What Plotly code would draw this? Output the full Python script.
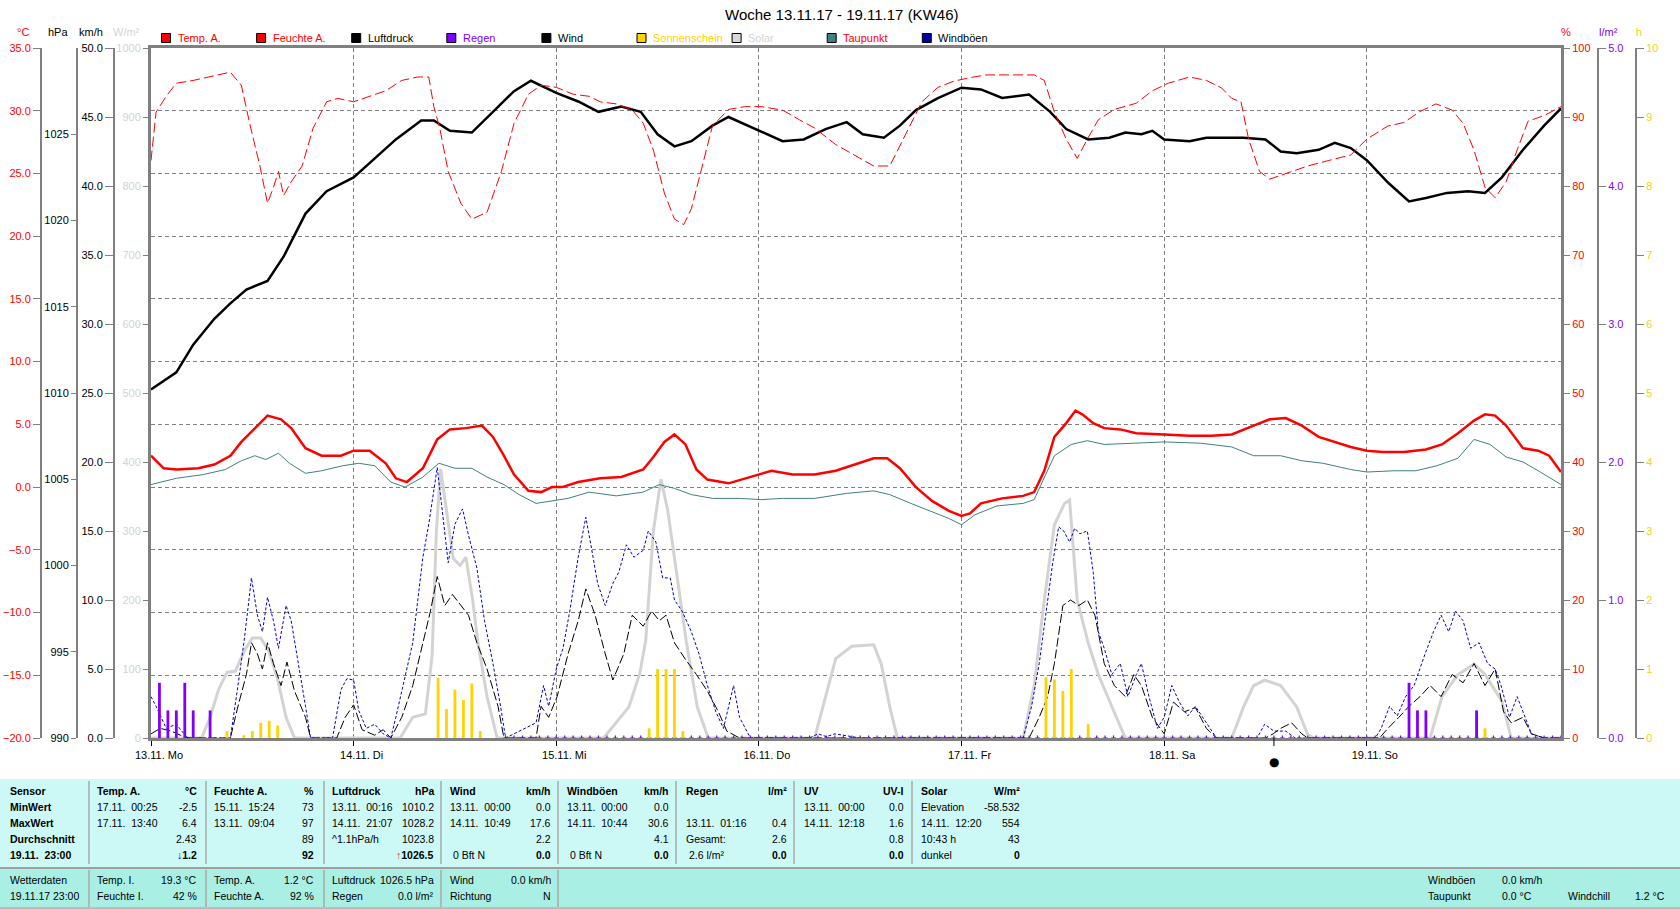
import pandas as pd
import plotly.graph_objects as go

W, H = 1680, 909
BASE = pd.Timestamp("2017-11-13 00:00")

# ---------------- data (hours after 13.11.17 00:00) ----------------
day_hours = [0, 24, 48, 72, 96, 120, 144]
day_labels = ["13.11. Mo", "14.11. Di", "15.11. Mi", "16.11. Do", "17.11. Fr", "18.11. Sa", "19.11. So"]

temp_h = [0, 1.5, 3, 5.6, 7.5, 9.4, 10.7, 12.3, 13.8, 15.4, 16.6, 18.3, 20.2, 22.5, 24, 25.9, 27.8, 29, 30.3, 32.2,
          33.9, 35.4, 37.3, 39.2, 40.5, 41.8, 43, 44.7, 46.2, 47.5, 48.7, 50.6, 53.2, 55.7, 58.3, 59.5, 60.8, 62, 63.3, 64.6,
          65.9, 68.4, 71, 73.5, 76, 78.6, 81.1, 83.7, 85.6, 87.2, 88.7, 90.6, 92.5, 94.5, 96, 97, 98.3, 100.8, 103.3, 104.6,
          105.8, 107, 108.4, 109.5, 110.3, 111.6, 112.9, 114.8, 116.7, 120, 123, 125.6, 128, 130.6, 132.5, 134.4, 136.3, 138.3, 140.2, 142.1,
          144, 145.9, 148.4, 151, 152.9, 154.8, 156.7, 158, 159.2, 160.5, 162.5, 164.3, 165.6, 167]
temp_v = [2.5, 1.5, 1.4, 1.5, 1.8, 2.5, 3.6, 4.7, 5.7, 5.4, 4.7, 3.1, 2.5, 2.5, 2.9, 2.9, 1.9, 0.7, 0.4, 1.5,
          3.8, 4.6, 4.7, 4.9, 4.0, 2.5, 1.0, -0.3, -0.4, 0.0, 0.0, 0.4, 0.7, 0.8, 1.4, 2.4, 3.6, 4.2, 3.4, 1.4,
          0.6, 0.3, 0.8, 1.3, 1.0, 1.0, 1.3, 1.9, 2.3, 2.3, 1.5, 0.0, -1.1, -1.9, -2.3, -2.1, -1.3, -0.9, -0.7, -0.4,
          1.3, 4.0, 5.1, 6.1, 5.8, 5.1, 4.7, 4.6, 4.3, 4.2, 4.1, 4.1, 4.2, 4.9, 5.4, 5.5, 4.9, 4.0, 3.6, 3.2,
          2.9, 2.8, 2.8, 3.0, 3.4, 4.3, 5.3, 5.8, 5.7, 4.9, 3.1, 2.9, 2.5, 1.2]

dew_h = [0, 3, 6.2, 8.8, 10.7, 12.3, 13.6, 15.1, 16.4, 18.3, 20.2, 22.7, 24.6, 26.5, 28.4, 30.1, 32.2, 34.1, 36, 38,
         39.8, 41.8, 43.6, 45.6, 47.5, 49.4, 51.9, 55.1, 58.3, 60.2, 62, 64, 66.5, 69.7, 72.3, 74.8, 78.6, 82.4, 85.6, 87.5,
         90, 92.5, 94.5, 96, 97.6, 100.2, 103.3, 104.6, 105.8, 107, 109, 110.9, 112.9, 116.7, 120, 124.3, 128, 130.6, 133.8, 136.3,
         138.8, 142.1, 144, 147.2, 149.8, 152.3, 154.8, 156.7, 158.6, 160.5, 162.5, 164.3, 167]
dew_v = [0.2, 0.7, 1.0, 1.4, 2.1, 2.5, 2.2, 2.7, 1.9, 1.1, 1.3, 1.7, 1.9, 1.7, 0.4, 0.0, 0.8, 1.9, 1.5, 1.5,
         0.8, 0.2, -0.6, -1.3, -1.1, -0.9, -0.4, -0.7, -0.4, 0.2, -0.1, -0.6, -0.9, -0.9, -1.0, -0.9, -0.9, -0.5, -0.3, -0.6,
         -1.3, -2.0, -2.5, -3.0, -2.2, -1.5, -1.3, -1.0, 0.8, 2.5, 3.4, 3.7, 3.4, 3.5, 3.6, 3.5, 3.2, 2.5, 2.5, 2.1,
         1.9, 1.4, 1.2, 1.3, 1.3, 1.7, 2.3, 3.8, 3.4, 2.4, 2.0, 1.3, 0.2]

hum_h = [0, 0.6, 1.8, 3, 5, 6.9, 9.4, 10.7, 11.7, 12.9, 13.8, 14.5, 15.1, 15.7, 16.6, 17.9, 19.2, 20.8, 22.1, 24,
         25.9, 27.8, 29.7, 31.6, 32.9, 33.5, 34.2, 35.2, 36.7, 38, 39.8, 41.5, 43, 44.7, 46.2, 48, 50, 51.9, 53.2, 55.1,
         57, 58.3, 59.5, 60.8, 62, 63.1, 64, 65.3, 66.5, 68.4, 70.3, 72.3, 74.8, 76.8, 78.6, 81.1, 83.7, 85.6, 87.5, 89.4,
         91.3, 93.2, 95.1, 97, 98.9, 101.4, 104.6, 105.8, 107, 108.4, 109.7, 110.9, 112.2, 114.1, 116.7, 118.6, 120.5, 123, 125, 126.8,
         128, 129.1, 130, 131.3, 132.5, 134.4, 137, 139.5, 142.1, 144, 146.5, 148.4, 150.3, 152.2, 154.1, 155.4, 156.7, 158, 159.2, 160.5,
         161.8, 163.1, 165, 167]
hum_v = [83.7, 90.7, 93, 94.9, 95.3, 95.8, 96.5, 94.6, 89, 82.9, 77.5, 79.8, 82.1, 78.6, 80.6, 82.9, 88.4, 92.2, 92.7, 92.2,
         93, 93.8, 95.3, 95.8, 95.8, 91.5, 88.4, 82.1, 77.5, 75.2, 76.2, 82.1, 89.1, 93.3, 94.6, 94.3, 93.3, 93, 92.2, 91.9,
         91, 89.1, 85.2, 79, 75.2, 74.4, 76.7, 82.9, 88.7, 91.1, 91.5, 91.5, 91, 89.6, 88.4, 86, 84.2, 82.9, 82.9, 87.6,
         92.2, 94.3, 95.2, 95.7, 96.1, 96.1, 96.1, 95.3, 90.7, 86.8, 84, 86.8, 89.6, 91.1, 92, 93.8, 94.9, 95.8, 95.3, 94.2,
         92.7, 92.2, 86.8, 82.1, 81, 81.8, 82.9, 83.7, 84.5, 86.8, 88.7, 89.2, 90.8, 91.9, 91, 89.1, 85.2, 79.8, 78.3, 80.6,
         85.2, 89.4, 90.2, 91.5]

press_h = [0, 3, 5, 7.5, 9.4, 11.3, 13.8, 15.7, 18.3, 20.8, 24, 26, 29, 32, 33.5, 35.4, 38, 40.5, 43, 45,
           48, 50.6, 53, 55.7, 58, 60, 62, 64, 66.5, 68.4, 72, 74.8, 77.3, 79.9, 82.4, 84.3, 86.8, 88.7, 90.6, 93.2,
           96, 98.3, 100.8, 104, 106.5, 108.4, 111, 113.5, 115.4, 117.3, 118.6, 120, 123, 125, 127.6, 129.4, 132, 133.8, 135.7, 138.3,
           140.2, 142.1, 144, 146.5, 149, 151, 153.5, 156, 158, 160, 162.5, 165, 167]
press_v = [1010.2, 1011.2, 1012.8, 1014.3, 1015.2, 1016.0, 1016.5, 1017.9, 1020.4, 1021.7, 1022.5, 1023.4, 1024.7, 1025.8, 1025.8, 1025.2, 1025.1, 1026.3, 1027.5, 1028.1,
           1027.4, 1026.9, 1026.3, 1026.6, 1026.3, 1025.0, 1024.3, 1024.6, 1025.5, 1026.0, 1025.2, 1024.6, 1024.7, 1025.3, 1025.7, 1025.0, 1024.8, 1025.5, 1026.4, 1027.1,
           1027.7, 1027.6, 1027.1, 1027.3, 1026.3, 1025.3, 1024.7, 1024.8, 1025.1, 1025.0, 1025.2, 1024.7, 1024.6, 1024.8, 1024.8, 1024.8, 1024.7, 1024.0, 1023.9, 1024.1,
           1024.5, 1024.2, 1023.5, 1022.2, 1021.1, 1021.3, 1021.6, 1021.7, 1021.6, 1022.5, 1024.1, 1025.5, 1026.5]

solar_h = [0, 6, 7, 8, 9, 10, 11, 12, 13, 14, 15, 16, 17,
           29.5, 31, 32.5, 33.3, 33.8, 34.3, 35, 35.8, 36.6, 37.3, 38.1, 38.7, 39.8, 41,
           53.6, 56.6, 57.9, 58.6, 59.5, 60.4, 61.2, 62.2, 63.4, 64.7, 66,
           78.6, 79.9, 81.1, 83, 85.6, 86.5, 87.5, 88.4,
           103.3, 104.6, 105.8, 107, 108.2, 108.8, 109.7, 111, 112.2, 114.1, 115.4,
           128, 129.4, 130.6, 131.9, 133.8, 135.7, 137, 137.7,
           151.5, 152.9, 154.8, 156.7, 158, 160, 161.1, 167]
solar_v = [0, 0, 30, 70, 95, 97, 125, 145, 145, 125, 85, 30, 0,
           0, 30, 35, 120, 300, 390, 330, 260, 250, 262, 200, 140, 60, 0,
           0, 45, 94, 142, 300, 375, 330, 240, 140, 45, 0,
           0, 60, 115, 133, 135, 107, 45, 0,
           0, 76, 200, 309, 340, 345, 200, 138, 92, 37, 0,
           0, 45, 76, 84, 76, 45, 5, 0,
           0, 60, 92, 107, 92, 53, 0, 0]

wind_h = [0, 1.1, 2.4, 3.5, 4.5, 9.4, 10.3, 11.3, 11.9, 12.6, 13.2, 13.8, 14.5, 15.4, 16.1, 17, 18.3, 18.9,
          22, 23, 24, 25, 26.5, 27.5, 28.4, 29.7, 31, 32.2, 33.1, 33.9, 34.8, 35.7, 36.7, 37.6, 38.6, 39.8, 41.1, 41.8,
          45.6, 46.2, 47.1, 48.1, 49.4, 50.6, 51.5, 52.6, 53.8, 54.7, 56, 57, 58.3, 59.3, 60.2, 61, 62, 63.3, 64.6, 65.9, 67.2, 68.2, 69.7,
          104, 105.2, 106.2, 107, 108, 108.9, 109.9, 110.9, 111.8, 112.9, 114.1, 115.4, 116.4, 117.3, 118.6, 120, 121.1, 122.4, 123.7, 125, 126.2,
          132, 132.9, 133.8, 135.1, 136.3, 137,
          145.5, 146.5, 147.8, 149, 150.3, 151.5, 152.8, 154.1, 155.4, 156.7, 158, 159.2, 160.2, 161.1, 162.5, 163.5, 165, 167]
wind_v = [0.3, 0.7, 0.5, 0.2, 0, 0, 2.3, 4.6, 6.9, 6.1, 5.0, 6.9, 5.4, 3.8, 5.5, 3.4, 1.5, 0,
          0, 1.5, 2.4, 0.6, 0.2, 0.6, 0, 1.5, 3.8, 6.9, 9.2, 11.7, 9.6, 10.4, 9.6, 8.9, 6.9, 5.0, 2.3, 0,
          0, 2.3, 1.5, 3.0, 6.1, 8.5, 10.8, 8.9, 6.1, 4.2, 6.1, 8.9, 8.1, 9.2, 8.5, 8.9, 6.9, 5.7, 4.6, 3.4, 1.9, 0.5, 0,
          0, 1.5, 3.0, 5.4, 9.6, 10.0, 9.6, 10.0, 8.9, 5.4, 3.8, 3.0, 4.6, 3.8, 1.5, 0.3, 2.6, 1.9, 2.2, 0.7, 0,
          0, 0.3, 0.7, 1.1, 0.3, 0,
          0, 0.7, 1.5, 2.3, 3.0, 3.8, 3.0, 4.6, 4.0, 5.4, 3.8, 5.0, 1.9, 1.1, 1.5, 0.3, 0, 0]

gust_h = [0, 0.6, 1.8, 3, 4.3, 9.4, 10.3, 11, 11.6, 11.9, 12.6, 13.2, 13.8, 14.5, 15.1, 16, 16.6, 17.4, 18.3, 18.9,
          21.5, 22.5, 23.2, 24, 24.6, 25.5, 26.5, 27.5, 28.4,
          29, 30, 31, 31.6, 32.2, 32.9, 33.5, 33.9, 34.4, 35.2, 36, 36.9, 37.6, 38.6, 39.5, 40.5, 41.4, 42,
          45.6, 46.5, 47.1, 48, 48.8, 49.6, 50.6, 51.5, 52.1, 52.9, 53.8, 54.7, 55.4, 56.3, 57.2, 58.3, 58.9, 59.8, 60.6, 61.5,
          62, 62.9, 64, 64.9, 65.9, 66.9, 67.8, 68.4, 69, 69.7, 71,
          78, 79, 80, 81, 83, 84,
          103.3, 104.3, 105.2, 106, 106.8, 107.5, 108.1, 108.8, 109.4, 110, 110.9, 111.6, 112.2, 112.9, 113.8, 114.8, 115.7,
          116.7, 117.3, 118.2, 119.2, 120, 120.9, 121.8, 122.8, 123.7, 125, 126.2,
          131, 131.9, 133, 134.4, 135.5,
          145, 145.7, 146.7, 147.6, 148.6, 149.6, 150.9, 151.9, 152.8, 153.7, 154.5, 155.4, 156.3, 157.3, 158.3, 159.2, 159.9,
          160.9, 161.8, 162.5, 163.5, 165, 167]
gust_v = [3.0, 2.3, 0.7, 1.0, 0, 0, 3.8, 6.9, 10.0, 11.6, 8.9, 7.7, 10.2, 8.5, 6.5, 9.6, 8.5, 5.7, 2.3, 0,
          0, 3.5, 4.3, 4.2, 2.0, 0.7, 1.0, 0.3, 0,
          1.5, 4.2, 6.9, 10.0, 13.1, 15.5, 17.8, 19.6, 17.0, 12.7, 15.5, 16.6, 14.7, 12.3, 8.5, 5.4, 2.3, 0,
          1.1, 3.8, 2.3, 5.0, 6.5, 9.2, 13.1, 16.0, 14.0, 11.2, 9.6, 11.2, 12.0, 14.0, 13.1, 13.6, 15.0, 14.2, 11.6, 11.6,
          10.0, 9.2, 7.7, 6.1, 3.8, 1.9, 0.7, 2.3, 3.8, 1.5, 0,
          0, 0.3, 0.1, 0.3, 0.1, 0,
          0, 2.3, 5.4, 9.2, 12.7, 15.3, 15.0, 14.2, 15.2, 14.8, 15.0, 12.0, 7.7, 6.5, 4.6, 5.4, 3.0,
          4.6, 5.4, 3.0, 0.7, 1.5, 3.8, 2.6, 1.6, 2.3, 1.1, 0,
          0, 1.0, 0.5, 0.5, 0,
          0, 0.7, 2.3, 1.6, 3.0, 3.8, 6.1, 7.7, 8.9, 7.7, 9.2, 8.5, 6.5, 6.9, 5.4, 5.0, 3.8,
          1.5, 3.0, 1.9, 0.3, 0, 0]

rain_h = [1, 2, 3, 4, 5, 7, 149, 150, 151, 157]
rain_v = [0.4, 0.2, 0.2, 0.4, 0.2, 0.2, 0.4, 0.2, 0.2, 0.2]

rainrate_h = list(range(42, 168))
rainrate_v = [0.0 for _ in rainrate_h]

sun_h = [9, 11, 12, 13, 14, 15, 34, 35, 36, 37, 38, 39, 59, 60, 61, 62, 63, 106, 107, 108, 109, 111, 158]
sun_v = [0.1, 0.04, 0.1, 0.22, 0.25, 0.18, 0.87, 0.42, 0.70, 0.55, 0.79, 0.1, 0.14, 1.0, 1.0, 1.0, 0.1,
         0.88, 0.85, 0.68, 1.0, 0.2, 0.14]

new_moon_h = 133.0

legend_names = ["Temp. A.", "Feuchte A.", "Luftdruck", "Regen", "Wind", "Sonnenschein", "Solar", "Taupunkt", "Windböen"]
legend_box = ["#FF0000", "#FF0000", "#000000", "#8000FF", "#000000", "#FFD200", "#D8D8D8", "#408080", "#0000A0"]
legend_text = ["#FF0000", "#FF0000", "#000000", "#8000FF", "#000000", "#FFD200", "#D3D3D3", "#FF0000", "#000000"]

# table contents
tbl_cols = [
    ("Sensor", "", ["MinWert", "MaxWert", "Durchschnitt", "19.11.  23:00"], ["", "", "", ""]),
    ("Temp. A.", "°C", ["17.11.  00:25", "17.11.  13:40", "", ""], ["-2.5", "6.4", "2.43", "<span style='color:#0000FF'>↓</span>1.2"]),
    ("Feuchte A.", "%", ["15.11.  15:24", "13.11.  09:04", "", ""], ["73", "97", "89", "92"]),
    ("Luftdruck", "hPa", ["13.11.  00:16", "14.11.  21:07", "^1.1hPa/h", ""], ["1010.2", "1028.2", "1023.8", "<span style='color:#C04000'>↑</span>1026.5"]),
    ("Wind", "km/h", ["13.11.  00:00", "14.11.  10:49", "", " 0 Bft N"], ["0.0", "17.6", "2.2", "0.0"]),
    ("Windböen", "km/h", ["13.11.  00:00", "14.11.  10:44", "", " 0 Bft N"], ["0.0", "30.6", "4.1", "0.0"]),
    ("Regen", "l/m²", ["", "13.11.  01:16", "Gesamt:", " 2.6 l/m²"], ["", "0.4", "2.6", "0.0"]),
    ("UV", "UV-I", ["13.11.  00:00", "14.11.  12:18", "", ""], ["0.0", "1.6", "0.8", "0.0"]),
    ("Solar", "W/m²", ["Elevation", "14.11.  12:20", "10:43 h", "dunkel"], ["-58.532", "554", "43", "0"]),
]
status_cols = [
    (["Wetterdaten", "19.11.17 23:00"], ["", ""]),
    (["Temp. I.", "Feuchte I."], ["19.3 °C", "42 %"]),
    (["Temp. A.", "Feuchte A."], ["1.2 °C", "92 %"]),
    (["Luftdruck", "Regen"], ["1026.5 hPa", "0.0 l/m²"]),
    (["Wind", "Richtung"], ["0.0 km/h", "N"]),
]

# ---------------- helpers ----------------
def ts(hours):
    return [BASE + pd.Timedelta(hours=h) for h in hours]

def px(x):
    return x / W

def py(y):
    return 1 - y / H

FONT = "Liberation Sans, Arial, sans-serif"
GREY = "#808080"
PL, PR, PT, PB = 151, 1561, 48, 738

fig = go.Figure()

fig.add_trace(go.Scatter(x=ts(solar_h), y=solar_v, yaxis="y", mode="lines",
                         line=dict(color="#D3D3D3", width=3), hoverinfo="skip"))
fig.add_trace(go.Bar(x=ts(sun_h), y=sun_v, yaxis="y7", marker=dict(color="#FFD200", line_width=0),
                     width=1.2e6, hoverinfo="skip"))
fig.add_trace(go.Bar(x=ts(rain_h), y=rain_v, yaxis="y6", marker=dict(color="#8000FF", line_width=0),
                     width=1.2e6, hoverinfo="skip"))
fig.add_trace(go.Scatter(x=ts(rainrate_h), y=rainrate_v, yaxis="y6", mode="markers", cliponaxis=False,
                         marker=dict(symbol="cross-thin", size=3.5, line=dict(color="#8000FF", width=1.2)),
                         hoverinfo="skip"))
fig.add_trace(go.Scatter(x=ts(wind_h), y=wind_v, yaxis="y4", mode="lines",
                         line=dict(color="#000000", width=1, dash="9px,3px"), hoverinfo="skip"))
fig.add_trace(go.Scatter(x=ts(gust_h), y=gust_v, yaxis="y4", mode="lines",
                         line=dict(color="#0000CC", width=1, dash="3px,2px"), hoverinfo="skip"))
fig.add_trace(go.Scatter(x=ts(dew_h), y=dew_v, yaxis="y2", mode="lines",
                         line=dict(color="#408080", width=1), hoverinfo="skip"))
fig.add_trace(go.Scatter(x=ts(hum_h), y=hum_v, yaxis="y5", mode="lines",
                         line=dict(color="#FF0000", width=1, dash="10px,4px"), hoverinfo="skip"))
fig.add_trace(go.Scatter(x=ts(temp_h), y=temp_v, yaxis="y2", mode="lines",
                         line=dict(color="#FF0000", width=2.5), hoverinfo="skip"))
fig.add_trace(go.Scatter(x=ts(press_h), y=press_v, yaxis="y3", mode="lines",
                         line=dict(color="#000000", width=2.5), hoverinfo="skip"))

dom_x = [px(PL), px(PR)]
dom_y = [py(PB), py(PT)]
tf = lambda c: dict(family=FONT, size=11, color=c)

def side_axis(rng, vals, fmt, color, position=None, side="left", ticklen=6, grid=False):
    d = dict(range=rng, tickvals=vals, tickformat=fmt, tickfont=tf(color), side=side,
             showline=True, linecolor=GREY, linewidth=2, ticks="outside", ticklen=ticklen,
             tickcolor=GREY, tickwidth=1, zeroline=False, showgrid=grid, automargin=False,
             fixedrange=True, overlaying="y")
    if position is not None:
        d["anchor"] = "free"
        d["position"] = position
    else:
        d["anchor"] = "x"
    if grid:
        d.update(gridcolor=GREY, griddash="4px,3px", gridwidth=1)
    return d

fig.update_layout(
    width=W, height=H, margin=dict(l=0, r=0, t=0, b=0),
    paper_bgcolor="white", plot_bgcolor="white", showlegend=False,
    barmode="overlay", font=dict(family=FONT, size=11),
    xaxis=dict(type="date", domain=dom_x, anchor="y",
               range=[BASE, BASE + pd.Timedelta(hours=167)],
               showline=True, linecolor=GREY, linewidth=3, mirror=True,
               tickvals=ts(day_hours), ticktext=day_labels, ticks="outside", ticklen=5,
               tickcolor="#000000", tickwidth=1, tickfont=tf("#000000"), ticklabelshift=8,
               showgrid=True, gridcolor=GREY, griddash="4px,3px", gridwidth=1,
               zeroline=False, automargin=False, fixedrange=True),
    yaxis=dict(domain=dom_y, anchor="x", side="left", range=[0, 1000],
               tickvals=list(range(0, 1001, 100)), tickfont=tf("#D3D3D3"),
               showline=True, linecolor=GREY, linewidth=3, ticks="outside", ticklen=5,
               tickcolor=GREY, showgrid=False, zeroline=False, automargin=False, fixedrange=True),
    yaxis2=side_axis([-20, 35], list(range(-20, 36, 5)), ".1f", "#FF0000", position=px(41), ticklen=7, grid=True),
    yaxis3=side_axis([990, 1030], list(range(990, 1026, 5)), "d", "#000000", position=px(77), ticklen=5),
    yaxis4=side_axis([0, 50], list(range(0, 51, 5)), ".1f", "#000000", position=px(114), ticklen=8),
    yaxis5=dict(side_axis([0, 100], list(range(0, 101, 10)), "d", "#FF0000", side="right", ticklen=6),
                linewidth=3),
    yaxis6=side_axis([0, 5], [0, 1, 2, 3, 4, 5], ".1f", "#8000FF", position=px(1598), side="right", ticklen=7),
    yaxis7=side_axis([0, 10], list(range(0, 11)), "d", "#FFD200", position=px(1636), side="right", ticklen=7),
)

ann = []
shapes = []

def txt(x, y, s, color="#000000", anchor="left", size=11, bold=False):
    if bold:
        s = "<b>" + s + "</b>"
    ann.append(dict(x=px(x), y=py(y), xref="paper", yref="paper", text=s, showarrow=False,
                    xanchor=anchor, yanchor="middle", font=dict(family=FONT, size=size, color=color)))

# title
txt(841, 15, "Woche 13.11.17 - 19.11.17 (KW46)", anchor="center", size=15)

# unit labels
txt(23, 32, "°C", "#FF0000", "center")
txt(58, 32, "hPa", "#000000", "center")
txt(91, 32, "km/h", "#000000", "center")
txt(127, 32, "W/m²", "#D3D3D3", "center")
txt(1566, 32, "%", "#FF0000", "center")
txt(1608, 32, "l/m²", "#8000FF", "center")
txt(1639, 32, "h", "#FFD200", "center")

# legend
for i, (nm, bc, tc) in enumerate(zip(legend_names, legend_box, legend_text)):
    x0 = 161.5 + i * 95.1
    shapes.append(dict(type="rect", xref="paper", yref="paper", x0=px(x0), x1=px(x0 + 9),
                       y0=py(42.5), y1=py(33.5), fillcolor=bc, line=dict(color="#000000", width=1)))
    txt(x0 + 14, 38, nm, tc)

# moon marker
ann.append(dict(x=BASE + pd.Timedelta(hours=new_moon_h), y=py(762), xref="x", yref="paper",
                text="●", showarrow=False, xanchor="center", yanchor="middle",
                font=dict(family="DejaVu Sans", size=12, color="#000000")))
shapes.append(dict(type="line", xref="x", yref="paper",
                   x0=BASE + pd.Timedelta(hours=new_moon_h), x1=BASE + pd.Timedelta(hours=new_moon_h),
                   y0=py(738), y1=py(746), line=dict(color="#000000", width=1)))

# table panels
shapes.append(dict(type="rect", xref="paper", yref="paper", x0=0, x1=1, y0=py(867), y1=py(779),
                   fillcolor="#CCF9F5", line=dict(width=0), layer="below"))
shapes.append(dict(type="rect", xref="paper", yref="paper", x0=0, x1=1, y0=0, y1=py(869),
                   fillcolor="#AAEFE3", line=dict(width=0), layer="below"))
shapes.append(dict(type="line", xref="paper", yref="paper", x0=0, x1=1, y0=py(868), y1=py(868),
                   line=dict(color="#A0A0A0", width=2)))
shapes.append(dict(type="line", xref="paper", yref="paper", x0=0, x1=1, y0=py(908), y1=py(908),
                   line=dict(color="#A0A0A0", width=1)))
seps = [89, 206, 324, 441, 558, 676, 794, 912]
for sx in seps:
    shapes.append(dict(type="line", xref="paper", yref="paper", x0=px(sx), x1=px(sx),
                       y0=py(864), y1=py(781), line=dict(color="#A8A8A8", width=1.5)))
for sx in seps[:5]:
    shapes.append(dict(type="line", xref="paper", yref="paper", x0=px(sx), x1=px(sx),
                       y0=py(907), y1=py(870), line=dict(color="#A8A8A8", width=1.5)))

TS = 10.5
row_y = [791, 807, 823, 839, 855]
lefts = [8, 95, 212, 330, 448, 565, 684, 802, 919]
rights = [None, 199, 316, 436, 553, 671, 789, 906, 1022]
for ci, (head, unit, lcol, rcol) in enumerate(tbl_cols):
    lx = lefts[ci]
    txt(lx, row_y[0], head, bold=True, size=TS)
    if rights[ci] is not None:
        txt(rights[ci], row_y[0], unit, anchor="right", bold=True, size=TS)
    for ri in range(4):
        last = ri == 3
        if lcol[ri]:
            txt(lx, row_y[ri + 1], lcol[ri], bold=(ci == 0), size=TS)
        if rights[ci] is not None and rcol[ri]:
            txt(rights[ci], row_y[ri + 1], rcol[ri], anchor="right", bold=last, size=TS)

st_y = [880, 896]
for ci, (lcol, rcol) in enumerate(status_cols):
    for ri in range(2):
        txt(lefts[ci], st_y[ri], lcol[ri], size=TS)
        if rcol[ri]:
            txt(rights[ci] if rights[ci] else 80, st_y[ri], rcol[ri], anchor="right", size=TS)
txt(1426, 880, "Windböen", size=TS)
txt(1500, 880, "0.0 km/h", size=TS)
txt(1426, 896, "Taupunkt", size=TS)
txt(1500, 896, "0.0 °C", size=TS)
txt(1566, 896, "Windchill", size=TS)
txt(1667, 896, "1.2 °C", anchor="right", size=TS)

fig.update_layout(annotations=ann, shapes=shapes)
fig.write_html("out.html")
